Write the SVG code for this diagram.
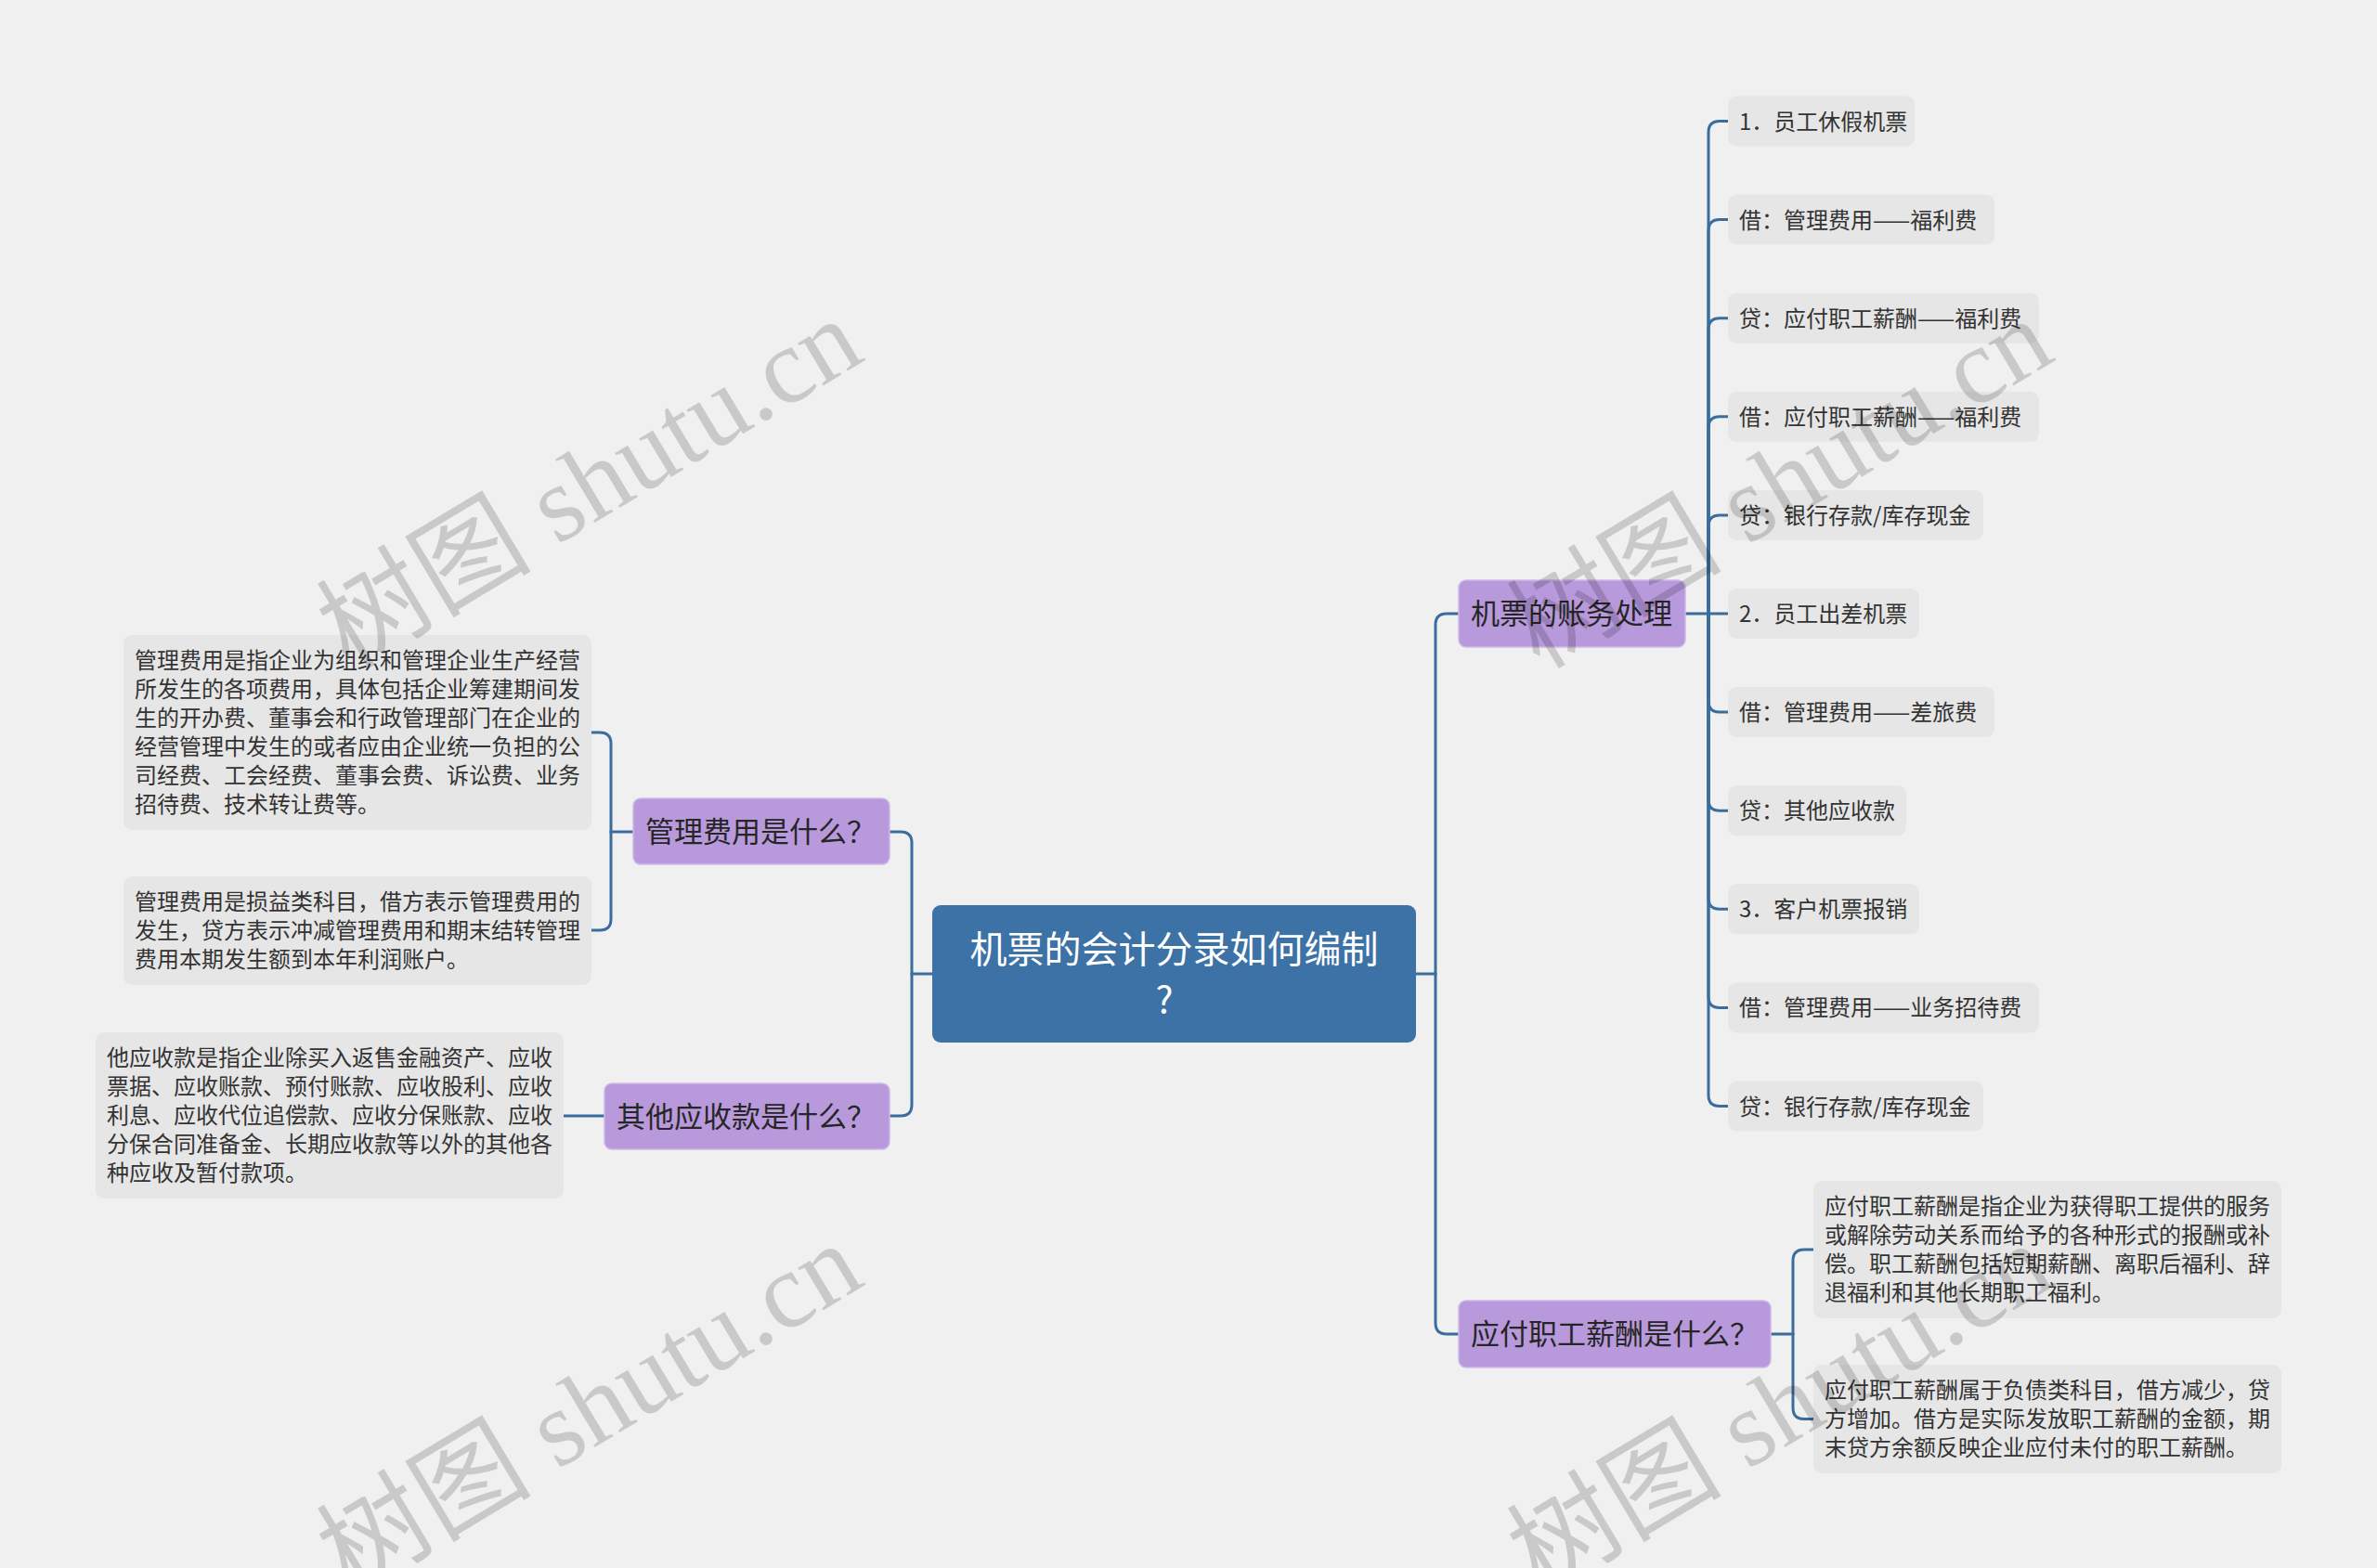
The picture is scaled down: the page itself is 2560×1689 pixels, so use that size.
<svg xmlns="http://www.w3.org/2000/svg" width="2560" height="1689" viewBox="0 0 2560 1689">
<style>
.bg{fill:#f0f0f0}
.root{fill:#3d72a6}
.sub{fill:#b899dc;stroke:#cdb8e8;stroke-width:1.5}
.leaf{fill:#e6e6e6}
.c{fill:none;stroke:#3a6d9d;stroke-width:3;stroke-linecap:round}
text{font-family:"Noto Sans CJK SC","Noto Sans",sans-serif}
.rt{font-size:40px;fill:#ffffff}
.st{font-size:31px;fill:#262626}
.lt{font-size:24px;fill:#333333}
.wm{font-family:"Liberation Serif","Noto Sans CJK SC",serif;font-size:116px;fill:#000;fill-opacity:0.16}
</style>
<rect class="bg" x="0" y="0" width="2560" height="1689"/>

<g id="connectors">
<path class="c" d="M1004,1049 H982"/>
<path class="c" d="M982,1049 V908 Q982,896 970,896 H958"/>
<path class="c" d="M982,1049 V1190 Q982,1202 970,1202 H958"/>
<path class="c" d="M1525,1049 H1546"/>
<path class="c" d="M1546,1049 V673 Q1546,661 1558,661 H1571"/>
<path class="c" d="M1546,1049 V1425 Q1546,1437 1558,1437 H1571"/>
<path class="c" d="M682,896 H658"/>
<path class="c" d="M658,896 V801 Q658,789 646,789 H637"/>
<path class="c" d="M658,896 V990 Q658,1002 646,1002 H637"/>
<path class="c" d="M651,1202 H607"/>
<path class="c" d="M1815,661 H1840"/>
<path class="c" d="M1840,661 V142.5 Q1840,130.5 1852,130.5 H1861"/>
<path class="c" d="M1840,661 V248.6 Q1840,236.6 1852,236.6 H1861"/>
<path class="c" d="M1840,661 V354.7 Q1840,342.7 1852,342.7 H1861"/>
<path class="c" d="M1840,661 V460.8 Q1840,448.8 1852,448.8 H1861"/>
<path class="c" d="M1840,661 V566.9 Q1840,554.9 1852,554.9 H1861"/>
<path class="c" d="M1840,661 H1861"/>
<path class="c" d="M1840,661 V755.1 Q1840,767.1 1852,767.1 H1861"/>
<path class="c" d="M1840,661 V861.2 Q1840,873.2 1852,873.2 H1861"/>
<path class="c" d="M1840,661 V967.3 Q1840,979.3 1852,979.3 H1861"/>
<path class="c" d="M1840,661 V1073.4 Q1840,1085.4 1852,1085.4 H1861"/>
<path class="c" d="M1840,661 V1179.5 Q1840,1191.5 1852,1191.5 H1861"/>
<path class="c" d="M1907,1437 H1931"/>
<path class="c" d="M1931,1437 V1358 Q1931,1346 1943,1346 H1953"/>
<path class="c" d="M1931,1437 V1516.5 Q1931,1528.5 1943,1528.5 H1953"/>
</g>

<g id="root">
<rect class="root" x="1004" y="975" width="521" height="148" rx="9"/>
<text class="rt" x="1264.5" y="1037" text-anchor="middle">机票的会计分录如何编制</text>
<text class="rt" x="1254" y="1091" text-anchor="middle">?</text>
</g>

<g id="n-mgmt">
<rect class="sub" x="682" y="860" width="276" height="71" rx="8"/>
<text class="st" x="695" y="907">管理费用是什么？</text>
</g>
<g id="n-other">
<rect class="sub" x="651" y="1167" width="307" height="71" rx="8"/>
<text class="st" x="664" y="1214">其他应收款是什么？</text>
</g>
<g id="n-ticket">
<rect class="sub" x="1571" y="625" width="244" height="72" rx="8"/>
<text class="st" x="1584" y="672">机票的账务处理</text>
</g>
<g id="n-salary">
<rect class="sub" x="1571" y="1401" width="336" height="72" rx="8"/>
<text class="st" x="1584" y="1448">应付职工薪酬是什么？</text>
</g>

<g id="l-mgmt-1">
<rect class="leaf" x="133" y="684" width="504" height="210" rx="9"/>
<text class="lt" x="145" y="720">管理费用是指企业为组织和管理企业生产经营</text>
<text class="lt" x="145" y="751">所发生的各项费用，具体包括企业筹建期间发</text>
<text class="lt" x="145" y="782">生的开办费、董事会和行政管理部门在企业的</text>
<text class="lt" x="145" y="813">经营管理中发生的或者应由企业统一负担的公</text>
<text class="lt" x="145" y="844">司经费、工会经费、董事会费、诉讼费、业务</text>
<text class="lt" x="145" y="875">招待费、技术转让费等。</text>
</g>
<g id="l-mgmt-2">
<rect class="leaf" x="133" y="944" width="504" height="117" rx="9"/>
<text class="lt" x="145" y="980">管理费用是损益类科目，借方表示管理费用的</text>
<text class="lt" x="145" y="1011">发生，贷方表示冲减管理费用和期末结转管理</text>
<text class="lt" x="145" y="1042">费用本期发生额到本年利润账户。</text>
</g>
<g id="l-other-1">
<rect class="leaf" x="103" y="1112" width="504" height="179" rx="9"/>
<text class="lt" x="115" y="1148">他应收款是指企业除买入返售金融资产、应收</text>
<text class="lt" x="115" y="1179">票据、应收账款、预付账款、应收股利、应收</text>
<text class="lt" x="115" y="1210">利息、应收代位追偿款、应收分保账款、应收</text>
<text class="lt" x="115" y="1241">分保合同准备金、长期应收款等以外的其他各</text>
<text class="lt" x="115" y="1272">种应收及暂付款项。</text>
</g>

<g id="l-t1"><rect class="leaf" x="1861" y="103.5" width="201" height="54" rx="9"/><text class="lt" x="1873" y="139.5">1．员工休假机票</text></g>
<g id="l-t2"><rect class="leaf" x="1861" y="209.6" width="287" height="54" rx="9"/><text class="lt" x="1873" y="245.6">借：管理费用——福利费</text></g>
<g id="l-t3"><rect class="leaf" x="1861" y="315.7" width="335" height="54" rx="9"/><text class="lt" x="1873" y="351.7">贷：应付职工薪酬——福利费</text></g>
<g id="l-t4"><rect class="leaf" x="1861" y="421.8" width="335" height="54" rx="9"/><text class="lt" x="1873" y="457.8">借：应付职工薪酬——福利费</text></g>
<g id="l-t5"><rect class="leaf" x="1861" y="527.9" width="275" height="54" rx="9"/><text class="lt" x="1873" y="563.9">贷：银行存款/库存现金</text></g>
<g id="l-t6"><rect class="leaf" x="1861" y="634" width="206" height="54" rx="9"/><text class="lt" x="1873" y="670">2．员工出差机票</text></g>
<g id="l-t7"><rect class="leaf" x="1861" y="740.1" width="287" height="54" rx="9"/><text class="lt" x="1873" y="776.1">借：管理费用——差旅费</text></g>
<g id="l-t8"><rect class="leaf" x="1861" y="846.2" width="192" height="54" rx="9"/><text class="lt" x="1873" y="882.2">贷：其他应收款</text></g>
<g id="l-t9"><rect class="leaf" x="1861" y="952.3" width="206" height="54" rx="9"/><text class="lt" x="1873" y="988.3">3．客户机票报销</text></g>
<g id="l-t10"><rect class="leaf" x="1861" y="1058.4" width="335" height="54" rx="9"/><text class="lt" x="1873" y="1094.4">借：管理费用——业务招待费</text></g>
<g id="l-t11"><rect class="leaf" x="1861" y="1164.5" width="275" height="54" rx="9"/><text class="lt" x="1873" y="1200.5">贷：银行存款/库存现金</text></g>

<g id="l-salary-1">
<rect class="leaf" x="1953" y="1272" width="504" height="148" rx="9"/>
<text class="lt" x="1965" y="1308">应付职工薪酬是指企业为获得职工提供的服务</text>
<text class="lt" x="1965" y="1339">或解除劳动关系而给予的各种形式的报酬或补</text>
<text class="lt" x="1965" y="1370">偿。职工薪酬包括短期薪酬、离职后福利、辞</text>
<text class="lt" x="1965" y="1401">退福利和其他长期职工福利。</text>
</g>
<g id="l-salary-2">
<rect class="leaf" x="1953" y="1470" width="504" height="117" rx="9"/>
<text class="lt" x="1965" y="1506">应付职工薪酬属于负债类科目，借方减少，贷</text>
<text class="lt" x="1965" y="1537">方增加。借方是实际发放职工薪酬的金额，期</text>
<text class="lt" x="1965" y="1568">末贷方余额反映企业应付未付的职工薪酬。</text>
</g>

<g id="watermarks">
<text class="wm" transform="translate(376,722) rotate(-31)">树图 shutu.cn</text>
<text class="wm" transform="translate(376,1718) rotate(-31)">树图 shutu.cn</text>
<text class="wm" transform="translate(1658,722) rotate(-31)">树图 shutu.cn</text>
<text class="wm" transform="translate(1658,1718) rotate(-31)">树图 shutu.cn</text>
</g>
</svg>
